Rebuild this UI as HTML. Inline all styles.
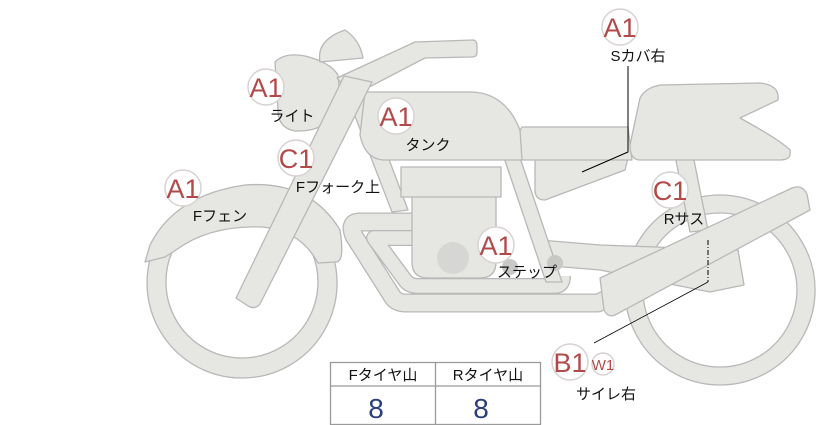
<!DOCTYPE html>
<html><head><meta charset="utf-8"><style>
body{margin:0;background:#fff;width:822px;height:425px;overflow:hidden;font-family:"Liberation Sans","Noto Sans CJK JP",sans-serif}
svg{position:absolute;left:0;top:0}
.b{fill:#fff;stroke:#d8d2d2;stroke-width:1.5}
.bt{fill:#b24a4a;font-size:27px;text-anchor:middle}
.lb{fill:#111;font-size:15px;text-anchor:middle}
</style></head><body>
<svg width="822" height="425" viewBox="0 0 822 425">
<g fill="#e6e6e3" stroke="#b8b8b8" stroke-width="1.3" stroke-linejoin="round">
<!-- rear wheel -->
<path fill-rule="evenodd" d="M720,195a95,95 0 1,0 0.1,0zM720,213a77,77 0 1,1 -0.1,0z"/>
<!-- front wheel -->
<path fill-rule="evenodd" d="M242,188a95,95 0 1,0 0.1,0zM242,206a76,76 0 1,1 -0.1,0z"/>
<!-- front fender -->
<path d="M145,262 L150,245 Q175,195 245,185 Q310,180 340,230 Q345,262 336,262 L318,263 Q300,230 262,227 Q210,225 176,250 Q170,254 165,257 Z"/>
<!-- swingarm -->
<path d="M540,240 L600,245 L738,250 L744,285 L710,292 L600,270 L540,265 Z"/>
</g>
<!-- exhaust pipes -->
<g fill="none" stroke-linejoin="round" stroke-linecap="butt">
<path d="M412,222 L360,222 Q348,222 354,236 L392,296 Q396,303 406,303 L598,303 L642,283" stroke="#b8b8b8" stroke-width="19"/>
<path d="M412,222 L360,222 Q348,222 354,236 L392,296 Q396,303 406,303 L598,303 L642,283" stroke="#e6e6e3" stroke-width="16.4"/>
<path d="M412,238 L374,238 L405,280 Q409,286 418,286 L555,286 Q563,286 563,276" stroke="#b8b8b8" stroke-width="16"/>
<path d="M412,238 L374,238 L405,280 Q409,286 418,286 L555,286 Q563,286 563,276" stroke="#e6e6e3" stroke-width="13.4"/>
</g>
<g fill="#e6e6e3" stroke="#b8b8b8" stroke-width="1.3" stroke-linejoin="round">
<!-- frame tubes -->
<path d="M348,98 L366,98 L408,210 L392,212 Z"/>
<path d="M498,140 L514,140 L562,282 L546,282 Z"/>
<path d="M672,140 L690,140 L708,230 L690,232 Z"/>
<!-- engine -->
<path d="M412,195 L496,195 L496,262 Q496,278 480,278 L428,278 Q412,278 412,262 Z"/>
<rect x="401" y="167" width="100" height="30"/>
<!-- side cover -->
<path d="M535,158 L628,158 L625,170 L545,200 Q535,200 535,190 Z"/>
<!-- seat -->
<path d="M522,127 L628,127 L632,160 L520,160 Q510,160 512,145 Z"/>
<path d="M640,98 Q645,88 660,85 L760,83 Q780,85 778,100 L740,118 Q780,140 790,150 Q792,160 780,160 L640,160 Q630,160 630,145 Z"/>
<!-- tank -->
<path d="M365,92 L470,92 Q505,92 520,130 L522,160 L385,160 Q365,160 360,135 Z"/>
<!-- muffler -->
<path d="M600,278 L792,188 Q802,184 807,194 L810,210 L615,315 Q608,318 604,310 Z"/>
<!-- headlight -->
<path d="M275,62 Q285,52 305,56 Q330,62 338,75 Q342,100 330,118 Q320,132 295,131 Q278,128 278,110 Z"/>
<!-- mirror -->
<path d="M320,62 Q316,40 345,30 Q360,40 363,58 Z"/>
<!-- handlebar -->
<path d="M337,78 L415,42 L473,40 Q477,40 477,47 L477,52 Q477,57 472,57 L425,58 L352,96 Z"/>
<!-- fork -->
<path d="M344,76 L372,82 L260,304 Q255,310 248,306 L236,298 Z"/>
</g>
<!-- steps -->
<circle cx="453" cy="258" r="16" fill="#d6d6d4"/>
<circle cx="510" cy="267" r="8" fill="#c8c8c6"/>
<circle cx="555" cy="263" r="8" fill="#c8c8c6"/>
<!-- leaders -->
<path d="M628,66 L628,152 L582,172" fill="none" stroke="#000" stroke-width="1"/>
<path d="M708,240 L708,282" fill="none" stroke="#000" stroke-width="1" stroke-dasharray="5,2,1,2"/>
<path d="M708,282 L594,343" fill="none" stroke="#000" stroke-width="0.8"/>
<!-- badges -->
<g>
<circle class="b" cx="620" cy="27" r="18"/><text class="bt" x="620" y="37">A1</text>
<text class="lb" x="638" y="61">Sカバ右</text>
<circle class="b" cx="266" cy="87" r="18"/><text class="bt" x="266" y="97">A1</text>
<text class="lb" x="292" y="121">ライト</text>
<circle class="b" cx="396" cy="116" r="18"/><text class="bt" x="396" y="126">A1</text>
<text class="lb" x="428" y="150">タンク</text>
<circle class="b" cx="296" cy="158" r="18"/><text class="bt" x="296" y="168">C1</text>
<text class="lb" x="338" y="192">Fフォーク上</text>
<circle class="b" cx="183" cy="188" r="18"/><text class="bt" x="183" y="198">A1</text>
<text class="lb" x="220" y="221">Fフェン</text>
<circle class="b" cx="670" cy="190" r="18"/><text class="bt" x="670" y="200">C1</text>
<text class="lb" x="684" y="224">Rサス</text>
<circle class="b" cx="496" cy="245" r="18"/><text class="bt" x="496" y="255">A1</text>
<text class="lb" x="527" y="277">ステップ</text>
<circle class="b" cx="570" cy="362" r="18"/><text class="bt" x="570" y="372">B1</text>
<circle class="b" cx="603" cy="364" r="11"/><text x="603" y="370" fill="#b24a4a" font-size="15" text-anchor="middle">W1</text>
<text class="lb" x="606" y="399">サイレ右</text>
</g>
<!-- table -->
<g stroke="#9a9a9a" stroke-width="1.3" fill="#fff">
<rect x="330.5" y="362.5" width="210" height="62"/>
<line x1="330" y1="386" x2="541" y2="386"/>
<line x1="435.5" y1="362" x2="435.5" y2="425"/>
</g>
<text class="lb" x="383" y="380">Fタイヤ山</text>
<text class="lb" x="488" y="380">Rタイヤ山</text>
<text x="376" y="418" fill="#2a3f7a" font-size="28" text-anchor="middle">8</text>
<text x="481" y="418" fill="#2a3f7a" font-size="28" text-anchor="middle">8</text>
</svg>
</body></html>
